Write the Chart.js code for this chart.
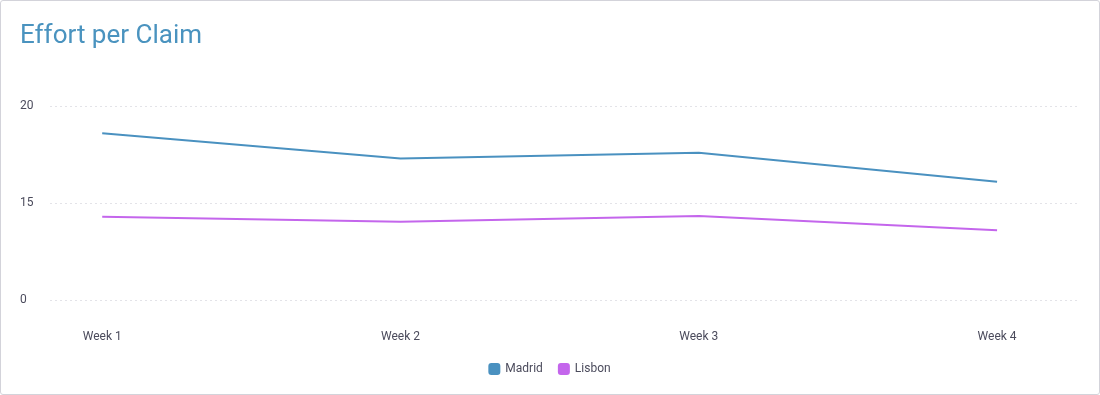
<!DOCTYPE html>
<html>
<head>
<meta charset="utf-8">
<script src="https://cdn.jsdelivr.net/npm/chart.js@4.4.1/dist/chart.umd.min.js"></script>
<style>
  body { margin: 0; background: #fff; }
  .card {
    width: 1100px; height: 395px; box-sizing: border-box;
    border: 1px solid #d3d3da; border-radius: 3px; position: relative;
  }
</style>
</head>
<body>
<div class="card">
  <canvas id="chart" width="1098" height="393"></canvas>
</div>
<script>
const weeks = ['Week 1', 'Week 2', 'Week 3', 'Week 4'];
const madrid = [18.6, 17.3, 17.6, 16.1];
const lisbon = [12.9, 12.1, 13.0, 10.8];
const yTicks = [0, 15, 20]; // axis shows these evenly spaced

// y axis where each tick step gets the same height
class StepScale extends Chart.LinearScale {
    buildTicks() {
        return yTicks.map(v => ({ value: v }));
    }
    toDecimal(value) {
        const n = yTicks.length - 1;
        for (let i = 0; i < n; i++) {
            const a = yTicks[i], b = yTicks[i + 1];
            if (value <= b || i === n - 1) {
                return (i + (value - a) / (b - a)) / n;
            }
        }
        return 1;
    }
    getPixelForValue(value) {
        return this.getPixelForDecimal(this.toDecimal(value));
    }
    getValueForPixel(pixel) {
        const n = yTicks.length - 1;
        const d = this.getDecimalForPixel(pixel) * n;
        const i = Math.min(Math.max(Math.floor(d), 0), n - 1);
        return yTicks[i] + (d - i) * (yTicks[i + 1] - yTicks[i]);
    }
}
StepScale.id = 'step';
StepScale.defaults = Chart.LinearScale.defaults;
Chart.register(StepScale);

const toPoints = arr => arr.map((v, i) => ({ x: i, y: v }));

const textColor = '#4b4b5c';

new Chart(document.getElementById('chart'), {
    type: 'line',
    data: {
        datasets: [{
            label: 'Madrid',
            data: toPoints(madrid),
            borderColor: '#4a91c0',
            backgroundColor: '#4a91c0',
            borderWidth: 2,
            pointRadius: 0,
            tension: 0
        }, {
            label: 'Lisbon',
            data: toPoints(lisbon),
            borderColor: '#c466ec',
            backgroundColor: '#c466ec',
            borderWidth: 2,
            pointRadius: 0,
            tension: 0
        }]
    },
    options: {
        responsive: false,
        animation: false,
        layout: { padding: { left: 19, right: 19, top: 0, bottom: 9 } },
        plugins: {
            title: {
                display: true,
                text: 'Effort per Claim',
                align: 'start',
                color: '#4a93bf',
                font: { family: 'Roboto', size: 26, weight: 'normal' },
                padding: { top: 20, bottom: 54 }
            },
            legend: {
                position: 'bottom',
                labels: {
                    color: textColor,
                    font: { family: 'Roboto', size: 12 },
                    boxWidth: 10,
                    boxHeight: 10,
                    useBorderRadius: true,
                    borderRadius: 2,
                    padding: 16
                }
            },
            tooltip: { enabled: false }
        },
        scales: {
            x: {
                type: 'linear',
                min: -0.175,
                max: 3.278,
                afterBuildTicks: scale => {
                    scale.ticks = weeks.map((_, i) => ({ value: i }));
                },
                afterFit: scale => { scale.height = 47; },
                ticks: {
                    color: textColor,
                    font: { family: 'Roboto', size: 12 },
                    padding: 30,
                    maxRotation: 0,
                    callback: v => weeks[v]
                },
                grid: { display: false, drawTicks: false },
                border: { display: false }
            },
            y: {
                type: 'step',
                min: 0,
                max: 20,
                afterFit: scale => { scale.width = 30; },
                ticks: {
                    color: textColor,
                    font: { family: 'Roboto', size: 12 },
                    crossAlign: 'far',
                    padding: 8
                },
                grid: {
                    color: '#e3e3e8',
                    drawTicks: false,
                    lineWidth: 1
                },
                border: { display: false, dash: [2, 3] }
            }
        }
    }
});
</script>
</body>
</html>
